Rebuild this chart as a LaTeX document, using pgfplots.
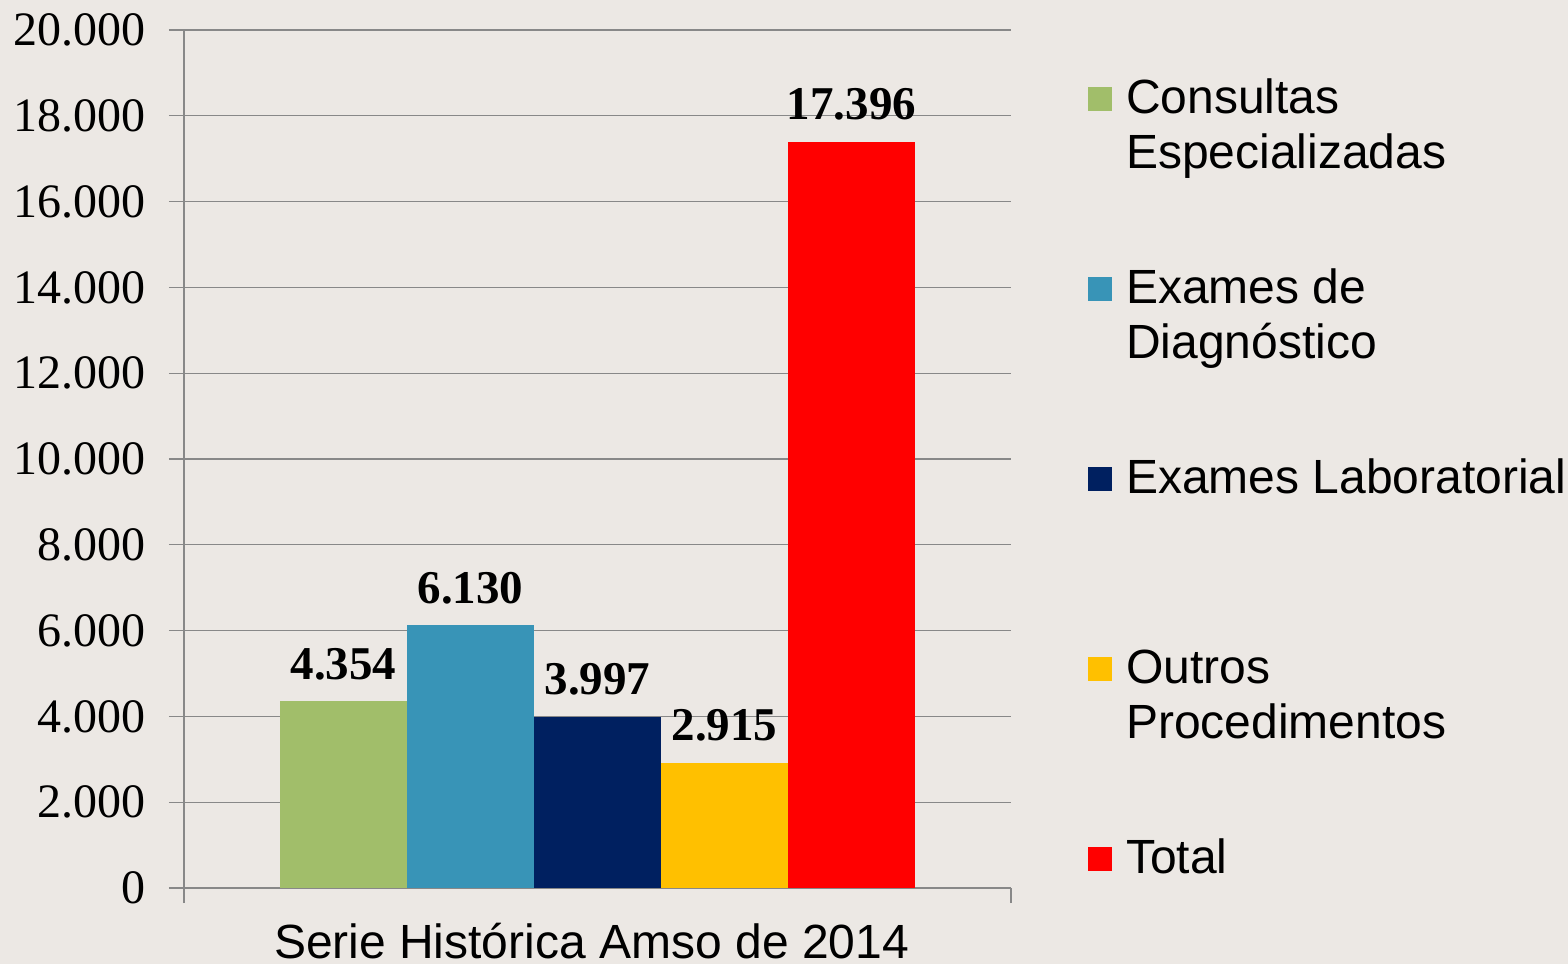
\documentclass[border=0pt]{standalone}
\usepackage{fontspec}
\setmainfont{Liberation Serif}
\newfontfamily\arialf{Liberation Sans}
\usepackage{pgfplots}
\pgfplotsset{compat=1.18}

\definecolor{bg}{HTML}{ECE8E4}
\definecolor{cgreen}{HTML}{A1BE6A}
\definecolor{cblue}{HTML}{3894B7}
\definecolor{cnavy}{HTML}{002060}
\definecolor{cyellow}{HTML}{FFC000}
\definecolor{cred}{HTML}{FF0000}
\definecolor{cgrid}{HTML}{888888}

\pgfplotsset{sq legend/.style={legend image code/.code={\fill[##1] (0pt,1pt) rectangle (12pt,13pt);}}}
\newcommand{\twoline}[2]{\begin{tabular}[t]{@{}l@{}}#1\\#2\end{tabular}}

\begin{document}
\begin{tikzpicture}
\fill[bg] (0,0) rectangle (784pt,482pt);
\begin{axis}[
  at={(92pt,38pt)}, anchor=south west,
  scale only axis,
  width=413.5pt, height=429pt,
  ybar=0pt,
  bar width=63.5pt,
  xmin=-1, xmax=1,
  ymin=0, ymax=20000,
  xtick={-1,1}, xticklabels={},
  ytick={0,2000,...,20000},
  axis lines*=left,
  axis line style={cgrid, line width=0.6pt},
  tick align=outside,
  major tick length=7.5pt,
  tick style={cgrid, line width=0.6pt},
  ymajorgrids,
  grid style={cgrid, line width=0.6pt},
  /pgf/number format/.cd, fixed, precision=0, 1000 sep={.}, assume math mode=true,
  /pgfplots/.cd,
  scaled y ticks=false,
  yticklabel style={font=\fontsize{24}{28}\selectfont, inner xsep=0pt, xshift=-11.5pt},
  xlabel={Serie Histórica Amso de 2014},
  xlabel style={at={(axis description cs:0.5,0)}, anchor=base, xshift=-3pt, yshift=-35pt, inner sep=0pt, font=\arialf\fontsize{24}{27.5}\selectfont},
  nodes near coords,
  every node near coord/.append style={font=\bfseries\fontsize{23.5}{28}\selectfont, anchor=base, yshift=11pt},
  legend style={at={(1,1)}, anchor=north west, xshift=38.5pt, yshift=-24.5pt,
    draw=none, fill=none, inner sep=0pt, outer sep=0pt, row sep=0pt, column sep=7pt,
    font=\arialf\fontsize{24}{27.5}\selectfont,
    cells={anchor=base west},
    nodes={inner sep=0pt, text height=17pt, text depth=78pt}},
  clip=false,
]
\addplot[fill=cgreen, draw=none, sq legend] coordinates {(0,4354)};
\addplot[fill=cblue, draw=none, sq legend] coordinates {(0,6130)};
\addplot[fill=cnavy, draw=none, sq legend] coordinates {(0,3997)};
\addplot[fill=cyellow, draw=none, sq legend] coordinates {(0,2915)};
\addplot[fill=cred, draw=none, sq legend] coordinates {(0,17396)};
\addlegendentry{\twoline{Consultas}{Especializadas}}
\addlegendentry{\twoline{Exames de}{Diagnóstico}}
\addlegendentry{Exames Laboratorial}
\addlegendentry{\twoline{Outros}{Procedimentos}}
\addlegendentry{Total}
\end{axis}
\pgfresetboundingbox
\path[use as bounding box] (0,0) rectangle (784pt,482pt);
\end{tikzpicture}
\end{document}
